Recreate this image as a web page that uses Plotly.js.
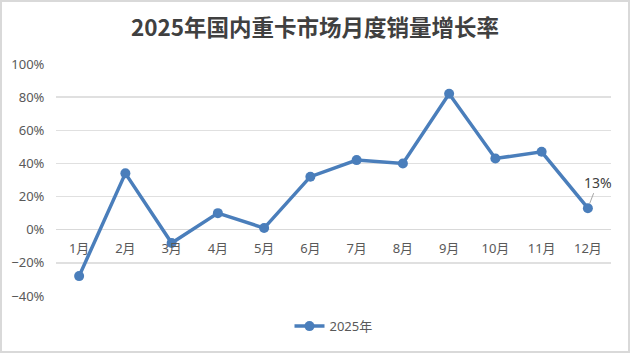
<!DOCTYPE html>
<html><head><meta charset="utf-8">
<script src="https://cdn.plot.ly/plotly-3.0.1.min.js"></script>
<style>body{margin:0;background:#fff}#wrap{position:relative;width:630px;height:353px}#frame{position:absolute;left:0;top:0;width:630px;height:353px;box-sizing:border-box;border:2px solid #d9d9d9;pointer-events:none}</style>
</head><body><div id="wrap"><div id="chart" style="width:630px;height:353px"></div><div id="frame"></div></div>
<script>
const months = ['1月','2月','3月','4月','5月','6月','7月','8月','9月','10月','11月','12月'];
const growth2025 = [-28, 34, -8, 10, 1, 32, 42, 40, 82, 43, 47, 13];
const seriesName = '2025年';
const titleText = '2025年国内重卡市场月度销量增长率';
const yMin = -40, yMax = 100;

const zeroPos = (0 - yMin) / (yMax - yMin);
const lastIdx = months.length - 1;
const sans = '"Noto Sans", "Noto Sans CJK SC", sans-serif';

Plotly.newPlot('chart', [{
  x: months, y: growth2025, name: seriesName, type: 'scatter', mode: 'lines+markers',
  line: {color: '#4a7ebb', width: 3.5},
  marker: {color: '#4a7ebb', size: 10},
  hoverinfo: 'none'
}], {
  width: 630, height: 353,
  margin: {l: 56, r: 19, t: 64, b: 57},
  paper_bgcolor: '#fff', plot_bgcolor: '#fff',
  font: {family: sans, color: '#595959', size: 13},
  title: {text: '<b>' + titleText + '</b>', x: 0.5, xanchor: 'center', y: 0.92, yanchor: 'middle',
          font: {size: 22.5, color: '#404040', family: '"Noto Sans CJK SC", sans-serif'}},
  xaxis: {type: 'category', range: [-0.5, 11.5], anchor: 'free', position: zeroPos,
          showgrid: false, zeroline: false, showline: false, ticks: 'outside', ticklen: 7, tickcolor: 'rgba(0,0,0,0)',
          tickfont: {size: 13, color: '#595959', family: sans}, fixedrange: true},
  yaxis: {range: [yMin, yMax], dtick: 20, ticksuffix: '%', showgrid: true, gridcolor: '#e0e0e0', gridwidth: 1.3,
          zeroline: true, zerolinecolor: '#d9d9d9', zerolinewidth: 1.5, showline: false,
          ticks: 'outside', ticklen: 8, tickcolor: 'rgba(0,0,0,0)',
          tickfont: {size: 13, color: '#595959', family: sans}, fixedrange: true},
  showlegend: true,
  legend: {orientation: 'h', x: 0.5, xanchor: 'center', y: -0.13, yanchor: 'middle',
           font: {size: 13, color: '#595959', family: sans}},
  annotations: [{
    x: months[lastIdx], y: growth2025[lastIdx], xref: 'x', yref: 'y',
    text: growth2025[lastIdx] + '%', showarrow: true, arrowhead: 0, arrowwidth: 1, arrowcolor: '#a6a6a6',
    ax: 10, ay: -26, standoff: 5, font: {size: 14, color: '#404040', family: sans}
  }]
}, {displayModeBar: false, staticPlot: true});
</script></body></html>
